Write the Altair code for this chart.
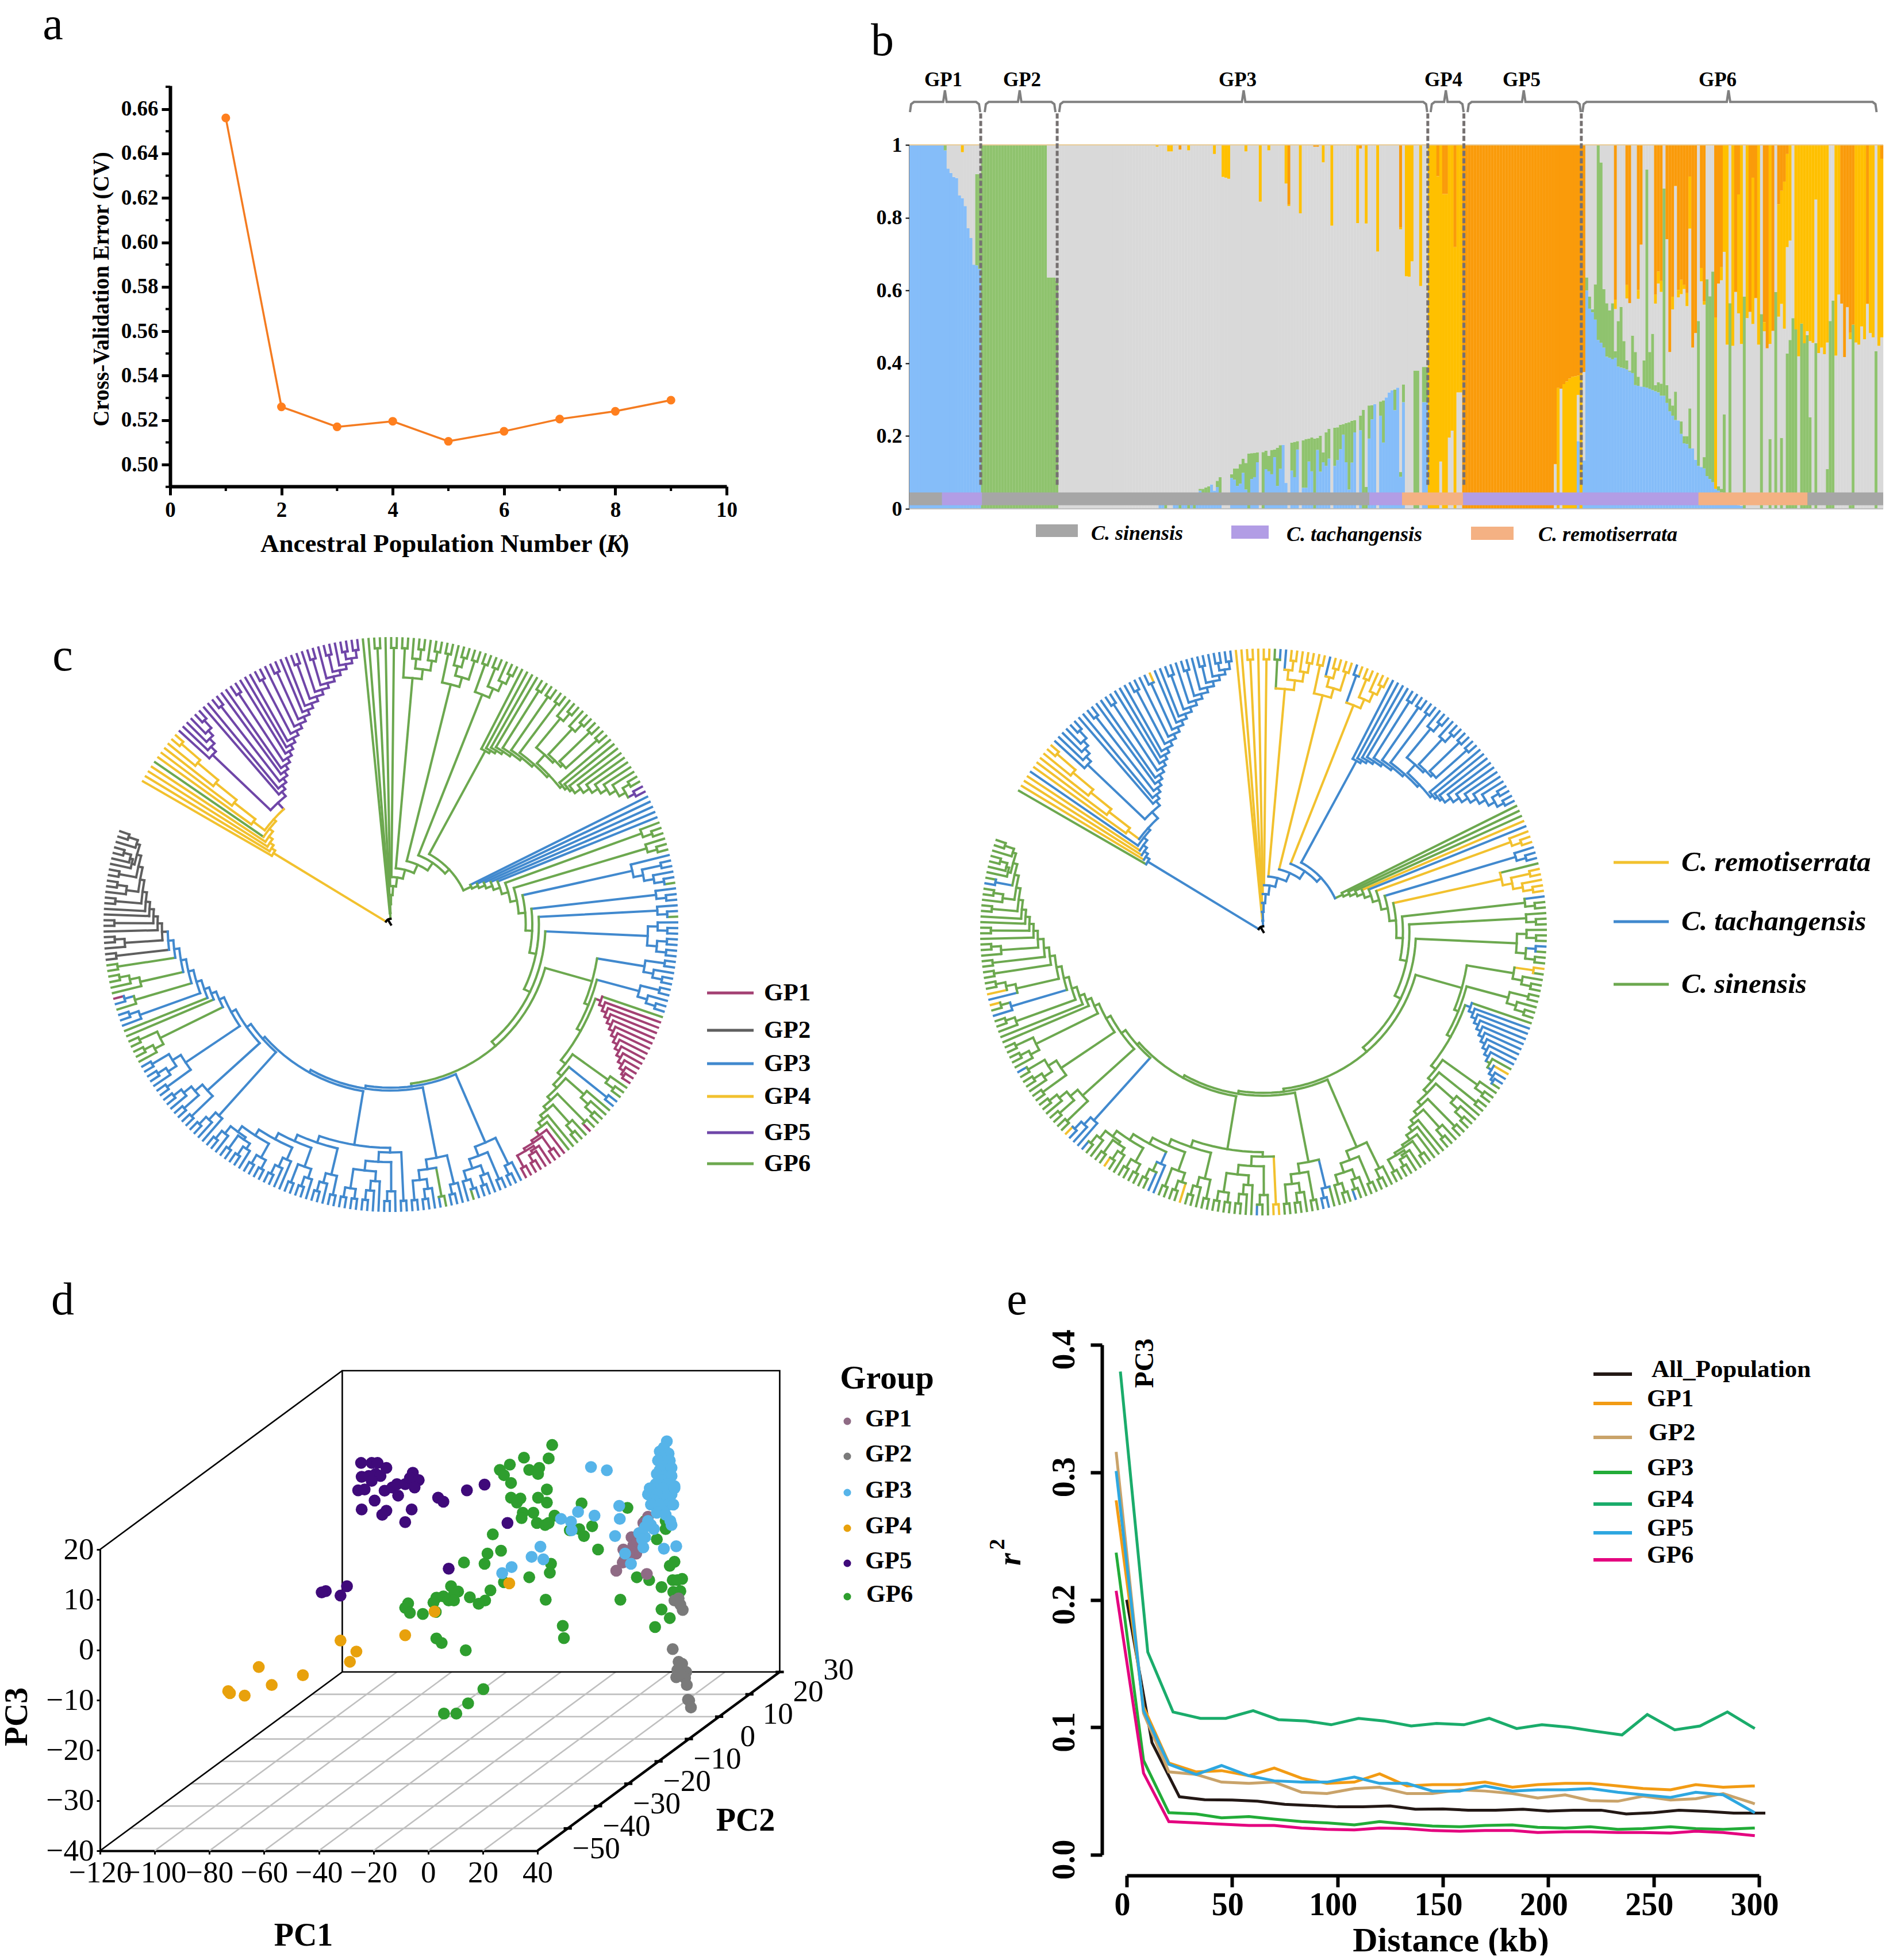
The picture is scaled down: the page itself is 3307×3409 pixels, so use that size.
import math, re
from collections import Counter
import altair as alt
import pandas as pd

alt.data_transformers.disable_max_rows()
SERIF = "Liberation Serif"
W, H = 3291, 3393
ONE = pd.DataFrame({"v": [0]})

# ---------------- panel a
K_VALUES = [1, 2, 3, 4, 5, 6, 7, 8, 9]
CV_ERROR = [0.656, 0.526, 0.517, 0.5195, 0.5105, 0.515, 0.5205, 0.524, 0.529]

# ---------------- panel b : per individual (blue top, green top, grey top, gold top); the rest is orange
GP1_ROWS = [(1, 1)] * 12 + [(.985, 1), (.935, .935), (.923, .923), (.912, .912), (.909, .909), (.861, .861),
            (.854, .854, .98), (.832, .832), (.771, .771), (.744, .744), (.671, .671), (.669, .92), (.659, .92)]
GP2_ROWS = [(0, 1)] * 23 + [(0, .636)] * 3 + [(0, .626)]
GP3_ROWS = [(0, 0)] * 34 + [(0, 0, .995), (.012, .012), (.012, .012), (0, .02), (0, 0, .982), (0, 0, .982),
            (.03, .03), (.03, .03), (0, .02, .987, .987), (.03, .03), (.03, .03), (0, .03, .985), (.03, .03), (0, .03),
            (.04, .04), (.05, .055), (.03, .055), (.03, .059), (.03, .062), (.067, .067), (.05, .05, .975),
            (.06, .077), (.04, .087), (0, 0, .912), (0, 0, .91), (0, 0, .907),
            (.085, .095), (.08, .111), (.063, .111), (.069, .123), (.099, .138), (.053, .126, .982), (0, .152),
            (.082, .153), (.087, .154), (.128, .155), (0, 0, .844), (0, .156), (.109, .16), (.103, .146, .985),
            (.095, .162), (.142, .163), (.063, .168), (.11, .175), (.176, .176), (.071, .071, .894),
            (0, 0, .832, .836), (.105, .182), (.087, .184), (.163, .186), (0, 0, .812), (.058, .188), (.058, .192),
            (.13, .193), (.103, .196), (0, .193, .995, .995), (.162, .195, .995, .995), (.102, .201),
            (.128, .155, .952), (.118, .21), (.138, .22), (0, 0, .778), (.118, .223), (.134, .224), (.164, .231),
            (.204, .233), (.128, .236), (.053, .238), (.127, .242), (.21, .244), (0, 0, .785), (.216, .256, .99, .99),
            (0, .272), (0, .06, .784), (.193, .284), (.246, .285), (.288, .288), (0, 0, .707), (.256, .295),
            (.182, .298), (.306, .306), (.32, .32), (.326, .326), (.271, .328), (.333, .333),
            (.088, .101, .768, .774), (.293, .342), (0, 0, .639), (0, 0, .638), (0, 0, .68), (0, .38), (0, .38),
            (0, 0, .612), (.293, .39), (.293, .39)]
GP4_ROWS = [(0, 0, 0, 1)] * 3 + [(0, 0, 0, .914), (0, 0, .13, 1), (0, 0, 0, .865), (0, 0, 0, .865), (0, 0, .196, 1),
            (0, 0, .215, 1), (0, 0, 0, .719), (0, 0, .32, 1), (0, 0, .32, 1)]
GP5_ROWS = [(0, 0, 0, 0)] * 32 + [(0, 0, .123, .123), (0, 0, 0, .332), (0, 0, .33, .33), (0, 0, 0, .343),
            (0, 0, 0, .35), (0, 0, 0, .358), (0, 0, 0, .363), (0, 0, 0, .364), (.186, .186, .313, .366),
            (0, 0, 0, .37), (.133, .133, .376, .376)]
GP6_ROWS = [(.6, .636), (.55, .583), (.54, .548), (.52, .617), (.464, 1), (.456, .952), (.443, .604), (.418, .565),
            (.415, .545), (.411, .565), (.415, .433, .549, .575), (.391, .516), (.388, .555), (.386, .461),
            (.383, .408, .578, .615), (.377, .38, .565, .565), (.373, .476), (.34, .431), (.338, .363, .577, .601),
            (.336, .336, .726, .726), (.335, .408), (.333, .932), (.33, .431), (.326, .481), (.323, .34, .564, .589),
            (.32, .348, .619, .652), (.311, .344, .596, .626), (.311, .88), (.291, .34, .741, .741),
            (.268, .303, .431, .431), (.256, .284, .548, .583), (.244, .322, .887, .887), (.243, .243, .581, .601),
            (.206, .24, .59, .629), (.18, .2, .604, .615), (.178, .2, .557, .593), (.166, .276, .77, .913),
            (.166, .166, .443, .443), (.135, .135, .483, .483), (.118, .516), (.115, .115, .625, .662),
            (.111, .142, .561, .57), (.09, .631), (.082, .584), (.073, .652), (.055, .055, .055, .526),
            (.05, .062, .619, .619), (.045, .055, .628, .664), (.04, .26, .706), (.035, .045, .451), (.03, .565),
            (.02, .02, .448), (.012, .012, .596, .596), (.01, .01, .537, .864), (.008, .008, .453), (0, .583),
            (0, 0, .524), (0, 0, .541, .541), (0, 0, .508, .91), (0, 0, .579, .579), (0, 0, .451), (0, .535),
            (0, 0, .488, .513), (0, 0, .441, .441), (0, .192, .453), (0, 0, .489, .489), (0, .596),
            (0, 0, .528, .837), (0, .195, .563, .874), (0, 0, .495, .899), (0, .427, .719, .975), (0, .464, .737),
            (0, .524), (0, .493, .493), (0, 0, .419), (0, .509, .509), (0, .455, .455), (0, .477, .488),
            (0, .252, .461), (0, 0, .456), (0, .455, .85), (0, 0, .428), (0, 0, .443), (0, 0, .425), (0, .109, .457),
            (0, .516), (0, .572), (0, 0, .421), (0, 0, .589), (0, 0, .564, .564), (0, 0, .417, .417), (0, 0, .554, .554),
            (0, .01, .466, .484), (0, .506, .506, .506), (0, 0, .457), (0, 0, .451), (0, 0, .501), (0, 0, .466),
            (0, 0, .563, .563), (0, 0, .483), (0, 0, .471), (0, .433), (0, 0, .448), (0, 0, .471, .962)]
STRIP_EDGES = [0, 11.4, 25.4, 160.6, 172, 193.3, 275.5, 313.6, 340]
STRIP_KINDS = ["#A6A6A6", "#B29DE5", "#A6A6A6", "#B29DE5", "#F4B183", "#B29DE5", "#F4B183", "#A6A6A6"]
GROUP_BREAKS = [24.9, 51.6, 181, 193.6, 234.6]
BRACKETS = [(0.2, 12.4, 24.7), (26.3, 38.5, 51), (52.3, 116.7, 180.8), (182, 187.3, 193.5), (194.9, 214.5, 234.4),
            (235, 286, 337.7)]
BRACKET_NAMES = ["GP1", "GP2", "GP3", "GP4", "GP5", "GP6"]

# ---------------- panel c : tree shape ( ) clade, [ ] ladder, number = depth in %, =xy = branch colours in the two trees
YLW = "[yyyy(yy)]60-88"
PUR = "([pppp(pp)]86-93[pp(pp)pp(pp)ppp(pp)p(pp)pp(pp)p(pp)p(pp)p(pp)(pp)]60-94)58"
YP = "[yyyyg(" + YLW + PUR + ")55=yb]48-54=yb"
C1, C2, C3 = "[(gg)(g(gg))(g(gg))]", "[(gg)(g(gg))(gg)]", "[(gg)(gg)(g(gg))]"
MID = "[gggg(gg)(gg)(gg)[(g(gg))(g(gg))(gg)(gg)]80[gggggggg(gg)(pp)]74-94]69-76"
GRAY = "[(k(kk))k(kk)kk(kk)(k(kk))(kk)(k(k(kk)))(k(kk))]80-92=k."
LEFT = ("[(b(b(bb)))[(bb)(bb)(b(bb))][(bb)(b(bb))(bb)][(g(gg))(gg)]gg(b(bb))(g(br))(g(g(gg)))(gg)(kk)" + GRAY +
        "]60-78=b.")
B1 = "[(b(bb))(bb)(b(bb))(bg)b]"
B2 = "[(b(bb))(gb)(b(bb))(bb)]"
B3 = ("[[(bb)(b(bb))(b(b(bb)))(bb)(bb)][(bb)(b(bb))][(b(bb))(bb)](b(b(bb)))[(bb)(bb)][(b(bb))(bb)](b(bb))]78-90=b.")
RED = "[grrrrrrrrrrr(rr)]78-96"
GGG = "[(g(gg))(bb)(g(g(gg)))(gr)(g(gg))gg[r(rr)(r(r(rr)))(rr)]90]78-88=g."
ZED = "[[(bb)b(bb)][(bb)(b(bb))]" + RED + GGG + "]73-76=g."
LOWER = "[" + ZED + "[" + B1 + B2 + B3 + LEFT + "]57-59=b.]56=g."
RIGHT = "[bbbbb(g(gg))(g(gg))[b(bb)(b(bg))](b(bb))(b(bg))[(b(bb))(bb)(bb)]" + LOWER + "]31-54=g."
TOP = "[gg(gg)g(gg)" + C1 + C2 + C3 + "(" + MID + RIGHT + ")28=gb]4-26=gb"
TREE_SHAPE = "(" + YP + TOP + ")2=zz"
TREE2_RUNS = [("g", 1), ("y", 3), ("b", 1), ("y", 6), ("b", 21), ("y", 1), ("b", 15), ("y", 7), ("g", 1), ("b", 2),
              ("y", 7), ("b", 1), ("y", 4), ("b", 1), ("y", 6), ("b", 32), ("g", 3), ("y", 1), ("b", 1), ("y", 3),
              ("b", 3), ("g", 1), ("y", 5), ("b", 1), ("g", 5), ("g", 3), ("b", 1), ("g", 3), ("y", 1), ("g", 9),
              ("g", 1), ("b", 8), ("g", 1), ("y", 1), ("b", 2), ("g", 25), ("g", 8), ("b", 1), ("g", 2), ("g", 2),
              ("b", 2), ("g", 6), ("g", 1), ("y", 2), ("g", 2), ("b", 1), ("g", 13), ("y", 1), ("g", 4), ("b", 2),
              ("g", 1), ("g", 4), ("g", 3), ("y", 1), ("g", 4), ("b", 4), ("y", 1), ("g", 13), ("b", 1),
              ("g", 4), ("g", 5), ("g", 1), ("b", 1), ("g", 1), ("y", 1), ("b", 1), ("y", 1), ("g", 5), ("g", 14),
              ("b", 1), ("g", 7)]
TREE_COLORS = {"y": "#F2C12E", "g": "#6CA84F", "b": "#4189CE", "p": "#6F46A8", "k": "#5F5F5F", "r": "#A34073",
               "z": "#000000"}
GP_LEGEND = [("GP1", "r", 1727), ("GP2", "k", 1792), ("GP3", "b", 1850), ("GP4", "y", 1907), ("GP5", "p", 1970),
             ("GP6", "g", 2024)]
SP_LEGEND = [("C. remotiserrata", "y", 1500), ("C. tachangensis", "b", 1603), ("C. sinensis", "g", 1712)]

# ---------------- panel d : positions read on the projection plane of the picture
PTS_GP6 = [(882,324),(876,357),(834,355),(810,372),(793,385),(800,398),(843,385),(860,380),(858,395),(812,417),(873,433),
           (812,453),(858,453),(828,455),(822,465),(873,465),(932,467),(1010,478),(850,490),(832,490),(886,497),(830,503),
           (856,515),(870,520),(876,515),(950,523),(912,533),(928,530),(936,547),(781,543),(960,580),(795,583),(772,590),
           (767,615),(732,612),(880,615),(878,637),(843,648),(800,660),(1026,648),(1047,655),(1082,620),(1090,610),
           (1068,672),(1087,655),(1103,652),(1095,655),(1100,682),(1088,684),(710,670),(722,683),(715,690),(697,695),
           (685,698),(680,710),(706,705),(715,705),(742,697),(768,705),(777,680),(757,713),(637,712),(632,723),(640,735),
           (662,738),(684,733),(871,703),(998,703),(1068,727),(1082,748),(1057,770),(900,767),(902,797),(685,798),(694,809),
           (735,827),(765,922),(739,957),(698,982),(719,982),(1040,510),(1075,510),(1060,555),(1075,530)]
PTS_GP4 = [(809,663),(682,732),(632,790),(522,803),(549,830),(538,855),(383,868),(458,888),(405,912),(331,927),(334,932),(359,938)]
PTS_GP5 = [(557,368),(575,368),(585,368),(600,380),(558,402),(570,400),(582,395),(590,400),(575,412),(552,435),(563,433),
           (597,436),(610,428),(618,420),(632,420),(645,392),(640,405),(655,410),(648,428),(620,448),(580,460),(558,482),
           (600,485),(593,495),(643,482),(632,513),(688,453),(697,463),(737,435),(767,421),(806,515),(706,627),(533,670),
           (497,682),(490,685),(522,693)]
PTS_GP2 = [(1097,700),(1104,728),(1090,705),(1100,715),(1087,824),(1097,855),(1103,860),(1110,880),(1095,875),(1093,893),
           (1108,895),(1111,912),(1113,948),(1115,950),(1118,967),(1100,885)]
PTS_GP1 = [(991,632),(1043,640),(1003,580),(1017,550),(1020,570),(1005,605),(1025,590),(1030,540),(1037,515),(1045,500),
           (1027,560),(1035,545),(1012,590),(1002,612)]
PTS_GP3 = [(948,378),(975,386),(996,473),(926,488),(954,497),(997,505),(897,505),(914,512),(915,533),(989,547),(862,573),
           (847,598),(867,604),(813,623),(797,638),(1006,590),(1016,615),(1037,575),(1072,578),(1093,572),(1030,540),
           (1040,550),(1050,520),(1055,530),(1045,510),(1077,315),(1072,330),(1065,340),(1080,345),(1070,355),(1062,362),
           (1082,362),(1075,375),(1065,385),(1085,380),(1060,395),(1075,400),(1085,400),(1068,410),(1058,420),(1078,420),
           (1090,425),(1048,430),(1070,430),(1045,445),(1060,445),(1085,445),(1075,455),(1055,460),(1090,430),(1065,470),
           (1080,470),(1050,470),(1070,485),(1088,470),(1060,490),(1075,495),(1083,510),(1085,520),(1040,525),(1035,555)]
PTS_COL = {"GP1": "#8F6B85", "GP2": "#7A7A7A", "GP3": "#56B4E9", "GP4": "#E8A10C", "GP5": "#3F0A7A", "GP6": "#2E9E2E"}
PC1_TICKS = [-120, -100, -80, -60, -40, -20, 0, 20, 40]
PC3_TICKS = [-40, -30, -20, -10, 0, 10, 20]
PC2_TICKS = [-50, -40, -30, -20, -10, 0, 10, 20, 30]

# ---------------- panel e
DIST = [-5, 8, 20, 33, 45, 58, 70, 83, 95, 108, 120, 133, 145, 158, 170, 183, 195, 208, 220, 233, 245, 258, 270, 283, 298]
DIST_GP4 = [-3, 10, 22, 35, 47, 60, 72, 85, 97, 110, 122, 135, 147, 160, 172, 185, 197, 210, 222, 235, 247, 260, 272, 285, 298]
DIST_ALL = [0, 12, 25, 37, 50, 62, 75, 88, 100, 112, 125, 137, 150, 162, 175, 188, 200, 212, 225, 237, 250, 262, 275, 288, 303]
LD_ALL = [.20, .088, .0455, .0432, .0429, .042, .0396, .0386, .0376, .0376, .0383, .0357, .036, .035, .035, .0357, .0343,
          .035, .035, .032, .033, .035, .034, .0327, .0327]
LD_GP1 = [.278, .116, .072, .065, .066, .062, .068, .06, .056, .057, .0635, .054, .055, .055, .057, .053, .055, .056, .056,
          .054, .052, .051, .055, .053, .054]
LD_GP2 = [.316, .111, .065, .063, .057, .056, .057, .049, .048, .052, .053, .048, .048, .051, .05, .048, .0445, .047, .0425,
          .042, .046, .043, .044, .048, .04]
LD_GP3 = [.237, .074, .033, .032, .029, .03, .028, .026, .025, .0235, .026, .024, .0225, .022, .023, .0235, .0215, .021, .022,
          .02, .0205, .022, .0205, .02, .021]
LD_GP4 = [.379, .159, .112, .107, .107, .113, .106, .105, .102, .107, .105, .101, .103, .102, .107, .099, .102, .1, .097, .094,
          .11, .098, .101, .112, .099]
LD_GP5 = [.301, .113, .071, .063, .07, .062, .058, .057, .057, .061, .056, .056, .05, .05, .054, .05, .051, .051, .052, .049,
          .047, .045, .049, .047, .033]
LD_GP6 = [.207, .064, .026, .025, .024, .023, .023, .021, .02, .0195, .021, .0205, .019, .0185, .019, .019, .0175, .018, .018,
          .0175, .0175, .017, .0185, .0175, .015]
LD_COL = {"All_Population": "#231815", "GP1": "#F29B14", "GP2": "#C9A36A", "GP3": "#22AC38", "GP4": "#1AAC6B",
          "GP5": "#2EA7E0", "GP6": "#E4007F"}


def val(p):
    return alt.value(p - 8)


def label(text, x, y, size, weight="normal", style="normal", angle=0, align="center", baseline="middle", color="#000000"):
    return alt.Chart(pd.DataFrame({"t": [text]})).mark_text(
        font=SERIF, fontSize=size, fontWeight=weight, fontStyle=style, angle=angle, align=align,
        baseline=baseline, color=color).encode(x=val(x), y=val(y), text="t:N")


def hline(x0, x1, y, color, width):
    return alt.Chart(ONE).mark_rule(color=color, strokeWidth=width).encode(x=val(x0), x2=val(x1), y=val(y))


def box(x0, x1, y0, y1, color):
    return alt.Chart(ONE).mark_rect(color=color).encode(x=val(x0), x2=val(x1), y=val(y0), y2=val(y1))


def scale(domain, p0, p1):
    return alt.Scale(domain=domain, range=[p0 - 8, p1 - 8], nice=False, zero=False)


def left_axis(px, values, size, weight="bold", **kw):
    return alt.Axis(orient="left", offset=-(px - 8), values=values, title=None, grid=False, labelFont=SERIF,
                    labelFontSize=size, labelFontWeight=weight, labelColor="#000000", domainColor="#000000",
                    tickColor="#000000", labelOverlap=False, labelFlush=False, **kw)


def bottom_axis(py, values, size, weight="bold", **kw):
    return alt.Axis(orient="bottom", offset=-(H - (py - 8)), values=values, title=None, grid=False, labelFont=SERIF,
                    labelFontSize=size, labelFontWeight=weight, labelColor="#000000", domainColor="#000000",
                    tickColor="#000000", labelOverlap=False, labelFlush=False, **kw)


layers = []

# ======= panel a
ax, ay = scale([0, 10], 296, 1264), scale([.4902, .6705], 846, 149)
df_a = pd.DataFrame({"k": K_VALUES, "e": CV_ERROR})
a_y_vals = [.50, .52, .54, .56, .58, .60, .62, .64, .66]
layers.append(alt.Chart(df_a).mark_line(color="#F47B20", strokeWidth=3.5).encode(
    x=alt.X("k:Q", scale=ax, axis=bottom_axis(846, [0, 2, 4, 6, 8, 10], 37, domainWidth=6, tickWidth=5, tickSize=15,
                                              labelPadding=8, format="d")),
    y=alt.Y("e:Q", scale=ay, axis=left_axis(296, a_y_vals, 37, domainWidth=6, tickWidth=5, tickSize=15, labelPadding=6,
                                            format=".2f"))))
layers.append(alt.Chart(df_a).mark_circle(color="#FF7F1E", size=230, opacity=1).encode(
    x=alt.X("k:Q", scale=ax, axis=None), y=alt.Y("e:Q", scale=ay, axis=None)))
layers.append(alt.Chart(pd.DataFrame({"m": [.49 + .02 * i for i in range(10)]})).mark_rule(
    color="#000000", strokeWidth=4).encode(y=alt.Y("m:Q", scale=ay, axis=None), x=val(288), x2=val(296)))
layers.append(alt.Chart(pd.DataFrame({"m": [1, 3, 5, 7, 9]})).mark_rule(color="#000000", strokeWidth=4).encode(
    x=alt.X("m:Q", scale=ax, axis=None), y=val(846), y2=val(854)))
layers.append(label("Cross-Validation Error (CV)", 177, 503, 39, "bold", angle=270))
layers.append(label("Ancestral Population Number (", 1056, 946, 45, "bold", align="right"))
layers.append(label("K", 1069, 946, 45, "bold", "italic"))
layers.append(label(")", 1087, 946, 45, "bold"))
layers.append(label("a", 92, 44, 80))

# ======= panel b
bx, by = scale([0, 340], 1582, 3276), scale([0, 1], 885, 252)
rows = GP1_ROWS + GP2_ROWS + GP3_ROWS + GP4_ROWS + GP5_ROWS + GP6_ROWS
recs = []
for i, r in enumerate(rows):
    b, g = r[0], r[1]
    k = r[2] if len(r) > 2 else 1
    y = r[3] if len(r) > 3 else 1
    for lo, hi, c in [(0, b, "#85BDF9"), (b, g, "#8FC36E"), (g, k, "#D9D9D9"), (k, y, "#FFC000"), (y, 1, "#FA9B0A")]:
        if hi > lo:
            recs.append({"i": i, "j": i + 1.05, "lo": lo, "hi": hi, "c": c})
df_b = pd.DataFrame(recs)
layers.append(alt.Chart(df_b).mark_rect().encode(
    x=alt.X("i:Q", scale=bx, axis=None), x2="j:Q",
    y=alt.Y("lo:Q", scale=by, axis=left_axis(1582, [0, .2, .4, .6, .8, 1], 36, domainWidth=2, tickWidth=2, tickSize=7,
                                             labelPadding=6, format="~g")), y2="hi:Q",
    color=alt.Color("c:N", scale=None)))
df_s = pd.DataFrame({"i": STRIP_EDGES[:-1], "j": STRIP_EDGES[1:], "c": STRIP_KINDS, "lo": .01, "hi": .045})
layers.append(alt.Chart(df_s).mark_rect().encode(
    x=alt.X("i:Q", scale=bx, axis=None), x2="j:Q", y=alt.Y("lo:Q", scale=by, axis=None), y2="hi:Q",
    color=alt.Color("c:N", scale=None)))
layers.append(alt.Chart(pd.DataFrame({"i": [0], "j": [340], "y": [1]})).mark_rule(color="#E9CB95", strokeWidth=2).encode(
    x=alt.X("i:Q", scale=bx, axis=None), x2="j:Q", y=alt.Y("y:Q", scale=by, axis=None)))
layers.append(alt.Chart(pd.DataFrame({"i": [0], "j": [340], "y": [0]})).mark_rule(color="#BFBFBF", strokeWidth=2).encode(
    x=alt.X("i:Q", scale=bx, axis=None), x2="j:Q", y=alt.Y("y:Q", scale=by, axis=None)))
layers.append(alt.Chart(pd.DataFrame({"i": GROUP_BREAKS, "lo": .066, "hi": 1.09})).mark_rule(
    color="#767171", strokeWidth=5, strokeDash=[9, 4]).encode(
    x=alt.X("i:Q", scale=bx, axis=None), y=alt.Y("lo:Q", scale=by, axis=None), y2="hi:Q"))
br = []
for n, (l, t, r) in enumerate(BRACKETS):
    path = [(l, 1.09), (l + .4, 1.112), (l + 1.4, 1.118), (t - .6, 1.118), (t, 1.15), (t + .6, 1.118), (r - 1.4, 1.118),
            (r - .4, 1.112), (r, 1.09)]
    br += [{"n": n, "o": o, "x": p[0], "y": p[1]} for o, p in enumerate(path)]
layers.append(alt.Chart(pd.DataFrame(br)).mark_line(color="#808080", strokeWidth=4).encode(
    x=alt.X("x:Q", scale=bx, axis=None), y=alt.Y("y:Q", scale=by, axis=None), detail="n:N", order="o:Q"))
for name, px in zip(BRACKET_NAMES, [1641, 1778, 2153, 2511, 2647, 2988]):
    layers.append(label(name, px, 139, 35, "bold"))
layers.append(box(1802, 1875, 912, 934, "#A6A6A6"))
layers.append(box(2142, 2207, 914, 937, "#B29DE5"))
layers.append(box(2559, 2633, 916, 939, "#F4B183"))
layers.append(label("C. sinensis", 1898, 928, 36, "bold", "italic", align="left"))
layers.append(label("C. tachangensis", 2238, 930, 36, "bold", "italic", align="left"))
layers.append(label("C. remotiserrata", 2676, 930, 36, "bold", "italic", align="left"))
layers.append(label("b", 1535, 72, 80))


# ======= panel c
def parse_tree(text):
    pos = 0
    suffix_re = re.compile(r"(\d+)?(?:-(\d+))?(?:=(..))?")

    def node(kids, r, ov):
        return {"kids": kids, "r": r, "ov": ov, "h": 1 + max(k["h"] for k in kids)}

    def suffix():
        nonlocal pos
        m = suffix_re.match(text, pos)
        pos = m.end()
        r1 = float(m.group(1)) if m.group(1) else None
        r2 = float(m.group(2)) if m.group(2) else r1
        return r1, r2, m.group(3)

    def item():
        nonlocal pos
        ch = text[pos]
        if ch in "([":
            close = ")" if ch == "(" else "]"
            pos += 1
            kids = []
            while text[pos] != close:
                kids.append(item())
            pos += 1
            r1, r2, ov = suffix()
            if ch == "(":
                return node(kids, r1, ov)
            n = len(kids) - 1
            cur = kids[-1]
            for j in range(n - 1, -1, -1):
                r = None if r1 is None else r1 + (r2 - r1) * j / max(n - 1, 1)
                cur = node([kids[j], cur], r, ov)
            return cur
        pos += 1
        return {"kids": [], "r": 100.0, "ov": None, "h": 0, "leaf": ch}

    return item()


ROOT = parse_tree(TREE_SHAPE)
LEAVES = []


def collect(n):
    if not n["kids"]:
        LEAVES.append(n)
    for k in n["kids"]:
        collect(k)


collect(ROOT)
SWEEP_START, SWEEP = 300.0, 349.0
for i, lf in enumerate(LEAVES):
    lf["a"] = SWEEP_START + SWEEP * i / (len(LEAVES) - 1)


def place(n, parent_r):
    if n["kids"]:
        r = n["r"] if n["r"] is not None else 100 - 3.4 * n["h"]
        n["r"] = min(max(r, parent_r + 1), 98)
        for k in n["kids"]:
            place(k, n["r"])
        n["a"] = (n["kids"][0]["a"] + n["kids"][-1]["a"]) / 2


place(ROOT, 0)


def tree_rows(colors, ov_idx):
    out = []
    seg = [0]

    def pt(r, a, s, c, o):
        t = math.radians(a)
        out.append({"x": r * math.sin(t), "y": r * math.cos(t), "s": s, "c": c, "o": o})

    def walk(n, parent_r):
        if n["kids"]:
            leaves = []
            for k in n["kids"]:
                leaves += walk(k, n["r"])
            code = Counter(leaves).most_common(1)[0][0]
            if n["ov"] and n["ov"][ov_idx] != ".":
                code = n["ov"][ov_idx]
        else:
            leaves = [colors[id(n)]]
            code = leaves[0]
        col = TREE_COLORS[code]
        seg[0] += 1
        pt(parent_r, n["a"], seg[0], col, 0)
        pt(n["r"], n["a"], seg[0], col, 1)
        if n["kids"]:
            a0, a1 = n["kids"][0]["a"], n["kids"][-1]["a"]
            steps = max(2, int(abs(a1 - a0) / 3) + 2)
            seg[0] += 1
            for j in range(steps):
                pt(n["r"], a0 + (a1 - a0) * j / (steps - 1), seg[0], col, j)
        return leaves

    walk(ROOT, 0)
    return pd.DataFrame(out)


colors1 = {id(lf): lf["leaf"] for lf in LEAVES}
runs = [code for code, n in TREE2_RUNS for _ in range(n)]
runs += ["g"] * (len(LEAVES) - len(runs))
colors2 = {id(lf): runs[i] for i, lf in enumerate(LEAVES)}

for df_t, cx, cy, rad in [(tree_rows(colors1, 0), 680, 1608, 498), (tree_rows(colors2, 1), 2198, 1621, 491)]:
    layers.append(alt.Chart(df_t).mark_line(strokeWidth=4, strokeCap="square").encode(
        x=alt.X("x:Q", scale=scale([-100, 100], cx - rad, cx + rad), axis=None),
        y=alt.Y("y:Q", scale=scale([-100, 100], cy + rad, cy - rad), axis=None),
        detail="s:N", order="o:Q", color=alt.Color("c:N", scale=None)))
for name, code, py in GP_LEGEND:
    layers.append(hline(1230, 1311, py, TREE_COLORS[code], 5))
    layers.append(label(name, 1329, py, 43, "bold", align="left"))
for name, code, py in SP_LEGEND:
    layers.append(hline(2807, 2903, py, TREE_COLORS[code], 5))
    layers.append(label(name, 2925, py, 49, "bold", "italic", align="left"))
layers.append(label("c", 109, 1142, 80))

# ======= panel d
dx, dy = scale([-120, 40], 174, 935), scale([-40, 20], 3219, 2695)
PX, PZ = 412 / 4.65 / 80, 438 / 12.3 / 80


def proj(pc1, pc2, pc3):
    return pc1 + (pc2 + 50) * PX, pc3 + (pc2 + 50) * PZ


def lines_df(segs):
    out = []
    for n, seg in enumerate(segs):
        for o, (a, b, c) in enumerate(seg):
            x, y = proj(a, b, c)
            out.append({"x": x, "y": y, "n": n, "o": o})
    return pd.DataFrame(out)


grid = [[(-120, t, -40), (40, t, -40)] for t in PC2_TICKS[1:-1]] + \
       [[(t, -50, -40), (t, 30, -40)] for t in PC1_TICKS[1:-1]]
frame = [[(-120, 30, -40), (40, 30, -40), (40, 30, 20), (-120, 30, 20), (-120, 30, -40)],
         [(-120, -50, 20), (-120, 30, 20)], [(-120, -50, -40), (-120, 30, -40)]]
thick = [[(40, -50, -40), (40, 30, -40)]] + [[(38.5, t, -40), (41.5, t, -40)] for t in PC2_TICKS[1:]]
for segs, col, wd in [(grid, "#BFBFBF", 2.6), (frame, "#000000", 2.6), (thick, "#000000", 4.5)]:
    layers.append(alt.Chart(lines_df(segs)).mark_line(color=col, strokeWidth=wd).encode(
        x=alt.X("x:Q", scale=dx, axis=None), y=alt.Y("y:Q", scale=dy, axis=None), detail="n:N", order="o:Q"))
ax_df = pd.DataFrame({"x": [-120, 40], "y": [-40, 20]})
layers.append(alt.Chart(ax_df).mark_point(opacity=0).encode(
    x=alt.X("x:Q", scale=dx, axis=bottom_axis(3219, PC1_TICKS, 53, "normal", domainWidth=4, tickWidth=3, tickSize=6,
                                              labelPadding=6)),
    y=alt.Y("y:Q", scale=dy, axis=left_axis(174, PC3_TICKS, 53, "normal", domainWidth=3, tickWidth=3, tickSize=6,
                                            labelPadding=5))))
pc2_df = pd.DataFrame([{"x": proj(40, t, -40)[0] + 21.5, "y": proj(40, t, -40)[1] + .4, "t": str(t).replace("-", "\u2212")}
                       for t in PC2_TICKS])
layers.append(alt.Chart(pc2_df).mark_text(font=SERIF, fontSize=53, color="#000000").encode(
    x=alt.X("x:Q", scale=dx, axis=None), y=alt.Y("y:Q", scale=dy, axis=None), text="t:N"))
pts = []
for name, plist in [("GP6", PTS_GP6), ("GP4", PTS_GP4), ("GP5", PTS_GP5), ("GP2", PTS_GP2), ("GP1", PTS_GP1),
                    ("GP3", PTS_GP3)]:
    pts += [{"x": p[0], "y": p[1], "c": PTS_COL[name]} for p in plist]
layers.append(alt.Chart(pd.DataFrame(pts)).mark_circle(size=430, opacity=1).encode(
    x=alt.X("x:Q", scale=scale([113, 857], 174, 935), axis=None),
    y=alt.Y("y:Q", scale=scale([1318, 580], 3219, 2695), axis=None),
    color=alt.Color("c:N", scale=None)))
layers.append(label("PC1", 528, 3367, 56, "bold"))
layers.append(label("PC2", 1297, 3167, 56, "bold"))
layers.append(label("PC3", 30, 2986, 56, "bold", angle=270))
layers.append(label("Group", 1543, 2398, 58, "bold"))
for name, py, tx in [("GP1", 2468, 1505), ("GP2", 2529, 1505), ("GP3", 2592, 1505), ("GP4", 2654, 1505), ("GP5", 2715, 1505),
                     ("GP6", 2773, 1507)]:
    layers.append(alt.Chart(ONE).mark_circle(size=170, opacity=1, color=PTS_COL[name]).encode(
        x=val(1474), y=val(py + 4)))
    layers.append(label(name, tx, py, 43, "bold", align="left"))
layers.append(label("d", 109, 2262, 80))

# ======= panel e
ex, ey = scale([0, 300], 1960, 3060), scale([0, .4], 3226, 2339)
ld = []
for name, xs, vs in [("All_Population", DIST_ALL, LD_ALL), ("GP2", DIST, LD_GP2), ("GP3", DIST, LD_GP3), ("GP1", DIST, LD_GP1),
                     ("GP4", DIST_GP4, LD_GP4), ("GP5", DIST, LD_GP5), ("GP6", DIST, LD_GP6)]:
    ld += [{"s": name, "x": a, "y": b, "c": LD_COL[name], "o": o} for o, (a, b) in enumerate(zip(xs, vs))]
layers.append(alt.Chart(pd.DataFrame(ld)).mark_line(strokeWidth=5).encode(
    x=alt.X("x:Q", scale=ex, axis=bottom_axis(3262, [0, 50, 100, 150, 200, 250, 300], 56, domainWidth=6, tickWidth=6,
                                              tickSize=20, labelPadding=4, labelOffset=-8, format="d")),
    y=alt.Y("y:Q", scale=ey, axis=left_axis(1917, [0, .1, .2, .3, .4], 56, domainWidth=6, tickWidth=6, tickSize=20,
                                            labelPadding=17, labelOffset=8, labelAngle=270, labelAlign="center",
                                            labelBaseline="bottom", format=".1f")),
    detail="s:N", order="o:Q", color=alt.Color("c:N", scale=None)))
layers.append(label("Distance (kb)", 2524, 3376, 60, "bold"))
layers.append(label("r", 1758, 2712, 56, "bold", "italic", angle=270))
layers.append(label("2", 1736, 2686, 38, "bold", angle=270))
layers.append(label("PC3", 1992, 2371, 47, "bold", angle=270))
for name, py, tx in [("All_Population", 2390, 2873), ("GP1", 2441, 2865), ("GP2", 2500, 2868), ("GP3", 2561, 2865),
                     ("GP4", 2616, 2865), ("GP5", 2666, 2865), ("GP6", 2713, 2865)]:
    layers.append(hline(2772, 2839, py, LD_COL[name], 6))
    layers.append(label(name, tx, py - 8, 43, "bold", align="left"))
layers.append(label("e", 1769, 2262, 80))

chart = alt.layer(*layers).resolve_scale(x="independent", y="independent").properties(
    width=W, height=H, padding=0, autosize=alt.AutoSizeParams(type="none"),
    background="#FFFFFF").configure_view(stroke=None)
chart.save("out.html", embed_options={"renderer": "svg", "actions": False})
